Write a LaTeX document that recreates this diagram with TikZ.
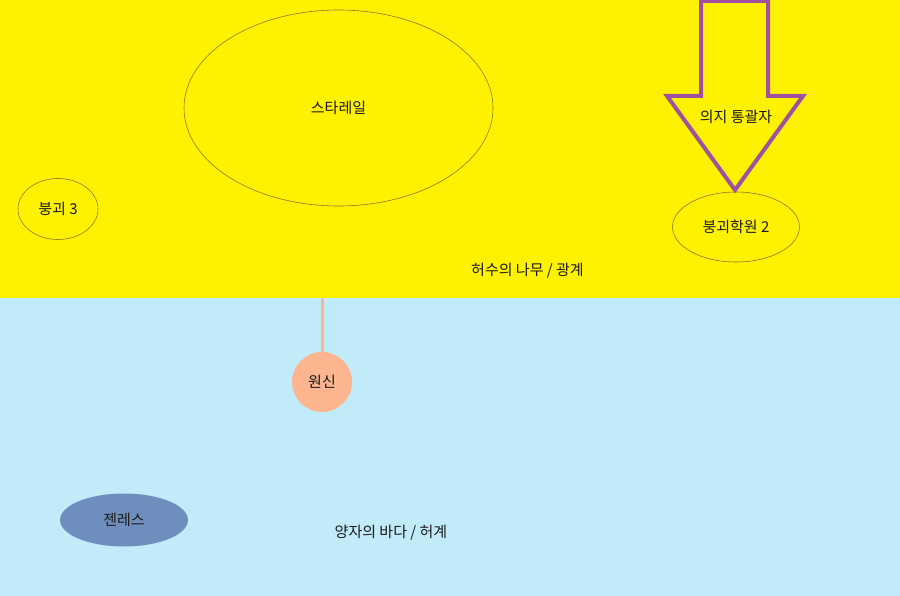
\documentclass[tikz,border=0pt]{standalone}
\usepackage{fontspec}
\setmainfont{Noto Sans CJK KR}
\usetikzlibrary{shapes.geometric}
\definecolor{bgyellow}{HTML}{FFF200}
\definecolor{bgblue}{HTML}{C2EBFA}
\definecolor{edgeolive}{HTML}{857A2A}
\definecolor{arrowpurple}{HTML}{A0509F}
\definecolor{salmon}{HTML}{FDB58F}
\definecolor{steel}{HTML}{6E8EBD}
\definecolor{ink}{HTML}{1A1A1A}
\tikzset{
  lbl/.style={text=ink, font=\fontsize{15}{17}\selectfont, inner sep=0pt},
  oval/.style={ellipse, draw=edgeolive, line width=0.6pt, inner sep=0pt, lbl},
}
\begin{document}
\begin{tikzpicture}[x=1pt,y=-1pt]
\useasboundingbox (0,0) rectangle (900,596);
\fill[bgyellow] (0,0) rectangle (900,298);
\fill[bgblue] (0,298) rectangle (900,596);
% big ellipse
\node[oval, minimum width=309, minimum height=196] (star) at (338.5,108) {스타레일};
\node[oval, minimum width=80, minimum height=61] (hon3) at (58,209) {붕괴 3};
\node[oval, minimum width=127, minimum height=70] (hon2) at (736,227) {붕괴학원 2};
% arrow
\draw[arrowpurple, line width=4pt, line join=miter]
  (701,1) -- (768,1) -- (768,96) -- (803,96) -- (735,190) -- (667,96) -- (701,96) -- cycle;
\node[lbl] (will) at (736,117) {의지 통괄자};
\node[lbl] (tree) at (527.5,271) {허수의 나무 / 광계};
% genshin
\coordinate (border) at (322,298);
\node[circle, fill=salmon, minimum size=60, inner sep=0pt, lbl] (gen) at (322,382) {원신};
\draw[salmon, line width=3pt] (border) -- (gen.north);
\node[ellipse, fill=steel, minimum width=128, minimum height=53, inner sep=0pt, lbl] (zzz) at (124,520) {젠레스};
\node[lbl] (sea) at (391,533) {양자의 바다 / 허계};
\end{tikzpicture}
\end{document}
